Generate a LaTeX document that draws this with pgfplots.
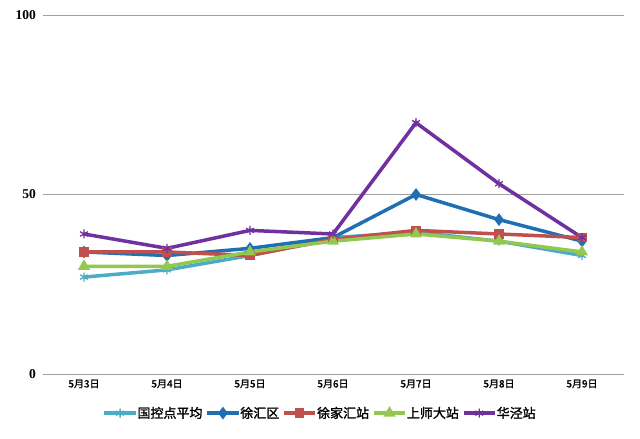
\documentclass[border=0pt]{standalone}
\usepackage{fontspec}
\setmainfont{Liberation Serif}
\newfontfamily\cjk{Noto Sans CJK SC}[FakeBold=1.5]
\usepackage{pgfplots}
\pgfplotsset{compat=1.18}

\definecolor{cAvg}{HTML}{4BACC6}
\definecolor{cXh}{HTML}{1F6FB2}
\definecolor{cXjh}{HTML}{C0504D}
\definecolor{cSsd}{HTML}{92C84F}
\definecolor{cHj}{HTML}{7030A0}

\begin{document}
\begin{tikzpicture}
\begin{axis}[
  scale only axis,
  width=581pt, height=359pt,
  xmin=-0.5, xmax=6.5,
  ymin=0, ymax=100,
  ytick={0,50,100},
  xtick={0,...,6},
  xticklabels={5月3日,5月4日,5月5日,5月6日,5月7日,5月8日,5月9日},
  axis line style={draw=none},
  major tick length=0pt,
  ymajorgrids,
  grid style={gray!75, line width=0.9pt},
  yticklabel style={font=\fontsize{13.5}{15}\selectfont\bfseries, xshift=-3pt},
  /pgf/number format/assume math mode=true,
  xticklabel style={font=\cjk\fontsize{10}{12}\selectfont, yshift=-2pt},
  every axis plot/.append style={line width=3.5pt, mark size=3.5pt},
  legend columns=5,
  legend style={
    at={(0.478,-0.109)}, anchor=center, draw=none,
    font=\cjk\fontsize{13}{15}\selectfont,
    /tikz/every even column/.append style={column sep=1pt},
    /tikz/every odd column/.append style={column sep=-2pt},
  },
  legend image code/.code={
    \draw[#1, mark repeat=2, mark phase=2] plot coordinates {(0cm,0cm) (0.55cm,0cm) (1.1cm,0cm)};
  },
]
\addplot[color=cAvg, mark=asterisk, mark size=4.5pt, mark options={line width=1.3pt}] coordinates
  {(0,27) (1,29) (2,33) (3,38) (4,39.5) (5,37) (6,33)};
\addlegendentry{国控点平均}
\addplot[color=cXh, mark=diamond*] coordinates
  {(0,34) (1,33) (2,35) (3,38) (4,50) (5,43) (6,37)};
\addlegendentry{徐汇区}
\addplot[color=cXjh, mark=square*, mark size=3pt] coordinates
  {(0,34) (1,34) (2,33) (3,37.5) (4,40) (5,39) (6,38)};
\addlegendentry{徐家汇站}
\addplot[color=cSsd, mark=triangle*] coordinates
  {(0,30) (1,30) (2,34) (3,37) (4,39) (5,37) (6,34)};
\addlegendentry{上师大站}
\addplot[color=cHj, mark=asterisk, mark size=4.5pt, mark options={line width=1.3pt}] coordinates
  {(0,39) (1,35) (2,40) (3,39) (4,70) (5,53) (6,38)};
\addlegendentry{华泾站}
\end{axis}
\pgfresetboundingbox
\path[use as bounding box] ([shift={(-42.5pt,-64pt)}]current axis.south west) rectangle ([shift={(16.5pt,15pt)}]current axis.north east);
\end{tikzpicture}
\end{document}
